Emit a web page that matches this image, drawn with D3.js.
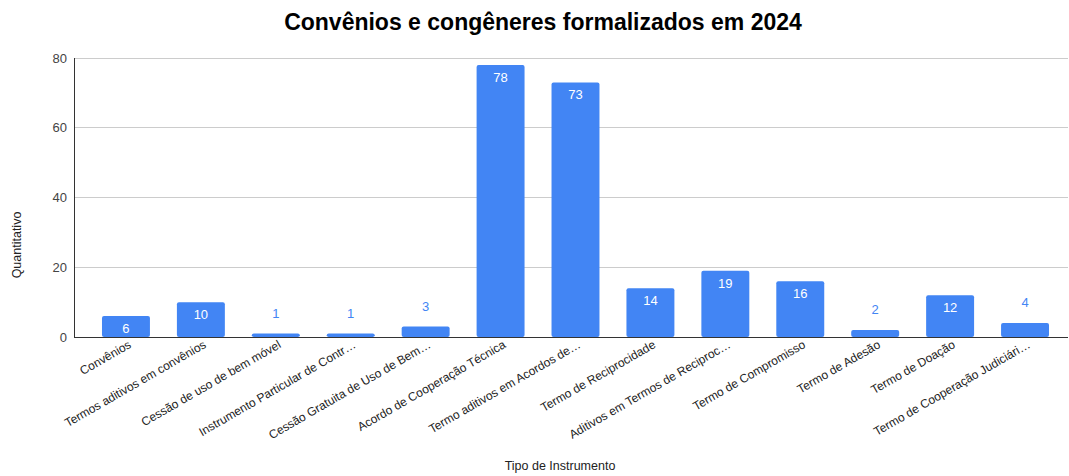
<!DOCTYPE html>
<html><head><meta charset="utf-8">
<script src="https://cdn.jsdelivr.net/npm/d3@7"></script>
<style>body{margin:0;background:#fff}svg{display:block;font-family:Arial,"Liberation Sans",sans-serif}</style>
</head><body><svg id="c" width="1069" height="476"></svg>
<script>
const categories = ["Convênios","Termos aditivos em convênios","Cessão de uso de bem móvel","Instrumento Particular de Contr…","Cessão Gratuita de Uso de Bem…","Acordo de Cooperação Técnica","Termo aditivos em Acordos de…","Termo de Reciprocidade","Aditivos em Termos de Reciproc…","Termo de Compromisso","Termo de Adesão","Termo de Doação","Termo de Cooperação Judiciári…"];
const values = [6,10,1,1,3,78,73,14,19,16,2,12,4];
const yTicks = [0,20,40,60,80];

const svg = d3.select("#c");
const x = d3.scaleBand().domain(categories).range([88.5,1062.5]).paddingInner(0.36).paddingOuter(0.18);
const y = d3.scaleLinear().domain([0,80]).range([337,58]);
const blue = "#4285f4";

svg.append("text").attr("x",543).attr("y",30).attr("text-anchor","middle")
  .attr("font-size",23).attr("font-weight","bold").attr("fill","#000").text("Convênios e congêneres formalizados em 2024");

// grid
svg.append("g").selectAll("line").data(yTicks.filter(d=>d>0)).join("line")
  .attr("x1",74).attr("x2",1068).attr("y1",d=>y(d)).attr("y2",d=>y(d))
  .attr("stroke","#cccccc").attr("stroke-width",1).attr("shape-rendering","crispEdges");
svg.append("g").selectAll("text").data(yTicks).join("text")
  .attr("x",67).attr("y",d=>y(d)+4.5).attr("text-anchor","end").attr("font-size",13).attr("fill","#444").text(d=>d);

// bars
svg.append("g").selectAll("rect").data(values).join("rect")
  .attr("x",(d,i)=>x(categories[i])).attr("width",x.bandwidth())
  .attr("y",d=>y(d)).attr("height",d=>y(0)-y(d)).attr("rx",2).attr("fill",blue);

// axes lines
svg.append("line").attr("x1",74).attr("x2",74).attr("y1",58).attr("y2",337).attr("stroke","#333").attr("shape-rendering","crispEdges");
svg.append("line").attr("x1",74).attr("x2",1068).attr("y1",337).attr("y2",337).attr("stroke","#333").attr("shape-rendering","crispEdges");

// value labels
svg.append("g").selectAll("text").data(values).join("text")
  .attr("x",(d,i)=>x(categories[i])+x.bandwidth()/2)
  .attr("y",d=> (y(0)-y(d))>20 ? y(d)+17 : y(d)-16)
  .attr("text-anchor","middle").attr("font-size",13)
  .attr("fill",d=>(y(0)-y(d))>20 ? "#fff" : blue).text(d=>d);

// x labels
svg.append("g").selectAll("text").data(categories).join("text")
  .attr("transform",d=>`translate(${x(d)+x.bandwidth()/2+6},${347}) rotate(-30)`)
  .attr("text-anchor","end").attr("font-size",12).attr("fill","#222").text(d=>d);

svg.append("text").attr("x",560).attr("y",470).attr("text-anchor","middle").attr("font-size",12.5).attr("fill","#222").text("Tipo de Instrumento");
svg.append("text").attr("transform","translate(21,245) rotate(-90)").attr("text-anchor","middle").attr("font-size",12.5).attr("fill","#222").text("Quantitativo");
</script></body></html>
